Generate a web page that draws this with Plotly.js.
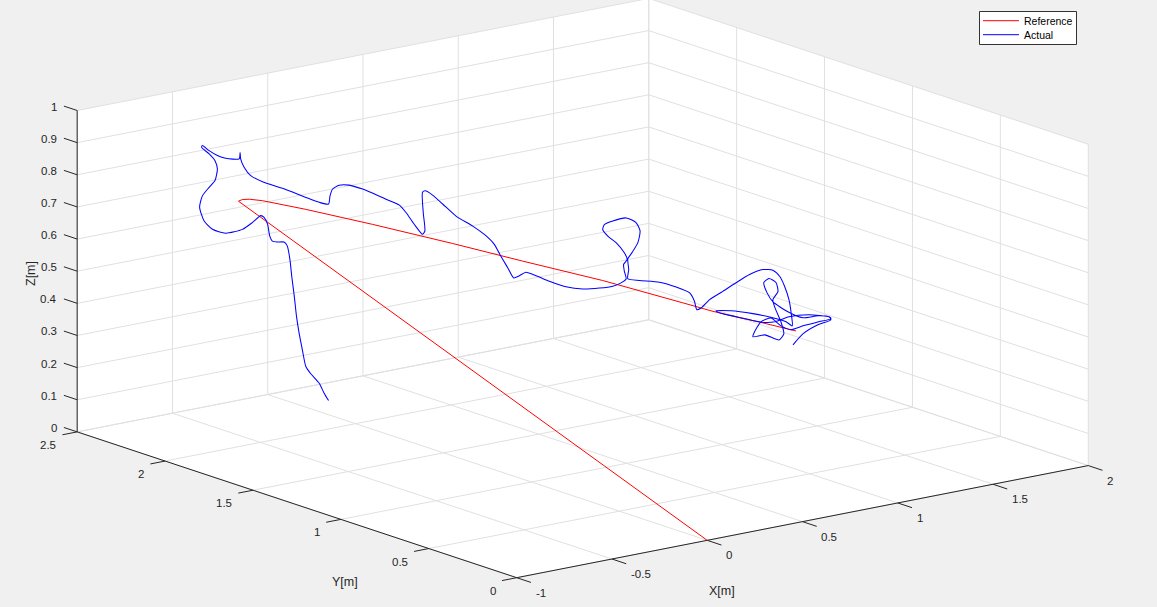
<!DOCTYPE html>
<html>
<head>
<meta charset="utf-8">
<script src="https://cdn.plot.ly/plotly-3.0.1.min.js"></script>
<style>html,body{margin:0;padding:0;background:#f0f0f0;}#chart{width:1157px;height:607px;}</style>
</head>
<body>
<div id="chart"></div>
<script>
// ---------------- DATA ----------------
const seriesNames = ['Reference', 'Actual'];

// Reference trajectory (m)
const refX = [0, -0.411, -0.400, -0.381, -0.346, -0.319, -0.229, -0.046, 0.172, 0.362, 0.580, 0.798, 0.880, 1.016, 1.106];
const refY = [0, 2.221, 2.210, 2.191, 2.155, 2.128, 2.037, 1.854, 1.634, 1.442, 1.223, 1.004, 0.921, 0.784, 0.694];
const refZ = [0, 0.700, 0.706, 0.708, 0.706, 0.702, 0.687, 0.652, 0.607, 0.565, 0.519, 0.464, 0.443, 0.416, 0.397];

// Actual trajectory (m)
const actX = [-0.166,-0.178,-0.191,-0.214,-0.228,-0.237,-0.246,-0.253,-0.259,-0.266,-0.271,-0.278,-0.287,-0.305,-0.319,-0.326,-0.332,-0.341,-0.350,-0.373,
-0.400,-0.446,-0.482,-0.505,-0.517,-0.509,-0.491,-0.475,-0.468,-0.475,-0.491,-0.511,-0.509,-0.491,-0.468,-0.446,-0.409,-0.407,-0.405,-0.396,
-0.378,-0.346,-0.291,-0.228,-0.191,-0.166,-0.162,-0.155,-0.137,-0.110,-0.073,-0.055,-0.010,0.027,0.045,0.067,0.090,0.096,0.092,0.090,
0.097,0.117,0.145,0.181,0.226,0.258,0.285,0.303,0.322,0.338,0.353,0.371,0.399,0.435,0.480,0.526,0.571,0.608,0.630,0.644,
0.639,0.637,0.647,0.639,0.617,0.594,0.580,0.585,0.608,0.644,0.671,0.682,0.676,0.660,0.648,0.651,0.648,0.680,0.735,0.780,
0.817,0.830,0.836,0.848,0.871,0.907,0.943,0.980,1.016,1.043,1.062,1.075,1.087,1.093,1.096,1.079,1.043,0.989,0.929,0.888,
0.907,0.962,1.011,1.049,1.087,1.141,1.196,1.201,1.166,1.125,1.092,1.065,1.038,1.011,0.992,0.989,1.022,1.060,1.073,1.065,
1.049,1.043,1.057,1.052,1.033,1.019,1.027,1.043,1.084,1.125,1.166,1.196,1.201,1.166,1.125,1.098];
const actY = [1.974,1.986,2.000,2.023,2.036,2.046,2.055,2.062,2.068,2.075,2.080,2.087,2.096,2.114,2.128,2.135,2.141,2.151,2.160,2.183,
2.210,2.256,2.292,2.315,2.327,2.320,2.301,2.285,2.279,2.285,2.301,2.322,2.320,2.301,2.279,2.256,2.219,2.216,2.215,2.205,
2.187,2.155,2.100,2.036,2.000,1.974,1.970,1.963,1.945,1.918,1.881,1.863,1.817,1.780,1.762,1.739,1.717,1.710,1.715,1.717,
1.709,1.689,1.662,1.625,1.579,1.547,1.520,1.502,1.483,1.467,1.451,1.433,1.406,1.369,1.324,1.278,1.232,1.196,1.173,1.159,
1.164,1.166,1.156,1.164,1.187,1.209,1.223,1.218,1.196,1.159,1.132,1.121,1.127,1.143,1.154,1.152,1.154,1.122,1.068,1.022,
0.985,0.972,0.965,0.954,0.930,0.894,0.858,0.821,0.784,0.757,0.739,0.725,0.713,0.707,0.704,0.721,0.757,0.812,0.872,0.913,
0.894,0.839,0.790,0.751,0.713,0.658,0.603,0.598,0.634,0.675,0.708,0.735,0.762,0.790,0.809,0.812,0.779,0.740,0.727,0.735,
0.751,0.757,0.743,0.749,0.768,0.782,0.773,0.757,0.716,0.675,0.634,0.603,0.598,0.634,0.675,0.702];
const actZ = [0.096,0.118,0.148,0.176,0.198,0.249,0.301,0.352,0.414,0.476,0.528,0.569,0.581,0.580,0.582,0.597,0.634,0.654,0.659,0.636,
0.613,0.598,0.608,0.633,0.674,0.710,0.738,0.760,0.796,0.822,0.842,0.861,0.867,0.852,0.838,0.831,0.832,0.852,0.832,0.807,
0.782,0.765,0.748,0.724,0.711,0.707,0.733,0.755,0.768,0.770,0.760,0.753,0.733,0.717,0.695,0.660,0.630,0.641,0.698,0.761,
0.766,0.754,0.728,0.693,0.665,0.641,0.612,0.576,0.541,0.511,0.519,0.531,0.522,0.507,0.493,0.489,0.495,0.503,0.515,0.528,
0.552,0.573,0.589,0.609,0.639,0.658,0.678,0.694,0.706,0.718,0.705,0.680,0.643,0.611,0.591,0.558,0.529,0.526,0.524,0.512,
0.496,0.471,0.445,0.451,0.479,0.507,0.536,0.564,0.582,0.582,0.564,0.534,0.493,0.452,0.412,0.424,0.434,0.443,0.448,0.445,
0.437,0.427,0.418,0.422,0.440,0.450,0.447,0.441,0.429,0.414,0.400,0.410,0.433,0.419,0.383,0.371,0.379,0.366,0.386,0.423,
0.465,0.490,0.516,0.544,0.555,0.542,0.511,0.484,0.455,0.439,0.448,0.447,0.438,0.420,0.389,0.353];

// Axis ranges and ticks
const xRange = [-1, 2];
const yRange = [0, 2.5];
const zRange = [0, 1];
const xTicks = [-1, -0.5, 0, 0.5, 1, 1.5, 2];
const yTicks = [0, 0.5, 1, 1.5, 2, 2.5];
const zTicks = [0, 0.1, 0.2, 0.3, 0.4, 0.5, 0.6, 0.7, 0.8, 0.9, 1];
const xTitle = 'X[m]', yTitle = 'Y[m]', zTitle = 'Z[m]';

// ---------------- VIEW (orthographic 3-D projection) ----------------
const W = 1157, H = 607;
const view = {az: 37.56, el: 14.78, scale: 721, box: [1, 1, 0.461], corner: [516.7, 577.7]};
const DEG = Math.PI / 180;
const ca = Math.cos(view.az * DEG), sa = Math.sin(view.az * DEG);
const ce = Math.cos(view.el * DEG), se = Math.sin(view.el * DEG);

function proj(X, Y, Z) {
  const nx = (X - xRange[0]) / (xRange[1] - xRange[0]) * view.box[0];
  const ny = (Y - yRange[0]) / (yRange[1] - yRange[0]) * view.box[1];
  const nz = (Z - zRange[0]) / (zRange[1] - zRange[0]) * view.box[2];
  const u = view.corner[0] + view.scale * (nx * ca - ny * sa);
  const v = view.corner[1] - view.scale * (se * (nx * sa + ny * ca) + ce * nz);
  return [u, v];
}
function projArrays(xs, ys, zs) {
  const u = [], v = [];
  for (let i = 0; i < xs.length; i++) { const p = proj(xs[i], ys[i], zs[i]); u.push(p[0]); v.push(p[1]); }
  return {u, v};
}

// ---------------- STYLE ----------------
const FONT = 'Liberation Sans, Arial, Helvetica, sans-serif';
const TXT = '#262626';
const GRID = '#e0e0e0';
const colors = ['#ff0000', '#0000ff'];
const lineWidths = [1, 1.05];

// ---------------- BUILD ----------------
const [x0, x1] = xRange, [y0, y1] = yRange, [z0, z1] = zRange;

// walls (floor, back wall y=max, back wall x=max)
function polyPath(pts) {
  return 'M ' + pts.map(p => { const q = proj(p[0], p[1], p[2]); return q[0].toFixed(2) + ',' + q[1].toFixed(2); }).join(' L ') + ' Z';
}
const wallPolys = [
  [[x0, y0, z0], [x1, y0, z0], [x1, y1, z0], [x0, y1, z0]],
  [[x0, y1, z0], [x1, y1, z0], [x1, y1, z1], [x0, y1, z1]],
  [[x1, y0, z0], [x1, y1, z0], [x1, y1, z1], [x1, y0, z1]]
];
const shapes = wallPolys.map(p => ({type: 'path', path: polyPath(p), fillcolor: '#ffffff', line: {width: 0}, layer: 'below', xref: 'x', yref: 'y'}));

// grid lines
const gu = [], gv = [];
function seg(a, b) { const p = proj(a[0], a[1], a[2]), q = proj(b[0], b[1], b[2]); gu.push(p[0], q[0], null); gv.push(p[1], q[1], null); }
xTicks.forEach(t => { seg([t, y0, z0], [t, y1, z0]); seg([t, y1, z0], [t, y1, z1]); });
yTicks.forEach(t => { seg([x0, t, z0], [x1, t, z0]); seg([x1, t, z0], [x1, t, z1]); });
zTicks.forEach(t => { seg([x0, y1, t], [x1, y1, t]); seg([x1, y0, t], [x1, y1, t]); });

// axis lines + tick marks
const au = [], av = [];
function aseg(p, q) { au.push(p[0], q[0], null); av.push(p[1], q[1], null); }
aseg(proj(x0, y0, z0), proj(x1, y0, z0));
aseg(proj(x0, y0, z0), proj(x0, y1, z0));
aseg(proj(x0, y1, z0), proj(x0, y1, z1));
const TICKLEN = 15;
function dirPx(dx, dy, dz) {
  const a = proj(0, 0, 0), b = proj(dx, dy, dz);
  const ux = b[0] - a[0], uy = b[1] - a[1], n = Math.hypot(ux, uy);
  return [ux / n, uy / n];
}
const dX = dirPx(0, -1, 0), dY = dirPx(-1, 0, 0), dZ = dirPx(0, 1, 0);
const annotations = [];
function label(p, text, xanchor, dx, dy) {
  annotations.push({x: p[0] + dx, y: p[1] + dy, xref: 'x', yref: 'y', text: text, showarrow: false,
    xanchor: xanchor, yanchor: 'middle', font: {family: FONT, size: 11.5, color: TXT}});
}
xTicks.forEach(t => { const p = proj(t, y0, z0); aseg(p, [p[0] + dX[0] * TICKLEN, p[1] + dX[1] * TICKLEN]); label(p, String(t), 'left', 17, 15); });
yTicks.forEach(t => { const p = proj(x0, t, z0); aseg(p, [p[0] + dY[0] * TICKLEN, p[1] + dY[1] * TICKLEN]); label(p, String(t), 'right', -19, 13); });
zTicks.forEach(t => { const p = proj(x0, y1, t); aseg(p, [p[0] + dZ[0] * 14, p[1] + dZ[1] * 14]); label(p, String(t), 'right', -18, -4); });

// axis titles
annotations.push({x: 722, y: 591, xref: 'x', yref: 'y', text: xTitle, showarrow: false, xanchor: 'center', yanchor: 'middle', font: {family: FONT, size: 12.5, color: TXT}});
annotations.push({x: 345, y: 582, xref: 'x', yref: 'y', text: yTitle, showarrow: false, xanchor: 'center', yanchor: 'middle', font: {family: FONT, size: 12.5, color: TXT}});
annotations.push({x: 31, y: 274, xref: 'x', yref: 'y', text: zTitle, showarrow: false, textangle: -90, xanchor: 'center', yanchor: 'middle', font: {family: FONT, size: 12.5, color: TXT}});

// legend box
const legendBox = {x0: 979.5, y0: 11.5, x1: 1076.5, y1: 44.5};
shapes.push({type: 'rect', xref: 'x', yref: 'y', x0: legendBox.x0, y0: legendBox.y0, x1: legendBox.x1, y1: legendBox.y1,
  fillcolor: '#ffffff', line: {color: '#333333', width: 1}, layer: 'above'});
seriesNames.forEach((name, i) => {
  const yy = 20.7 + i * 14;
  shapes.push({type: 'line', xref: 'x', yref: 'y', x0: 983, x1: 1019, y0: yy, y1: yy, line: {color: colors[i], width: 1}, layer: 'above'});
  annotations.push({x: 1022, y: yy, xref: 'x', yref: 'y', text: name, showarrow: false, xanchor: 'left', yanchor: 'middle',
    font: {family: FONT, size: 10.5, color: '#000000'}});
});

const pr = projArrays(refX, refY, refZ);
const pa = projArrays(actX, actY, actZ);

const traces = [
  {type: 'scatter', mode: 'lines', x: gu, y: gv, line: {color: GRID, width: 1}, hoverinfo: 'skip', showlegend: false},
  {type: 'scatter', mode: 'lines', x: au, y: av, line: {color: TXT, width: 1}, hoverinfo: 'skip', showlegend: false},
  {type: 'scatter', mode: 'lines', name: seriesNames[0], x: pr.u, y: pr.v, line: {color: colors[0], width: lineWidths[0]}, hoverinfo: 'skip', showlegend: false},
  {type: 'scatter', mode: 'lines', name: seriesNames[1], x: pa.u, y: pa.v, line: {color: colors[1], width: lineWidths[1], shape: 'spline', smoothing: 0.6}, hoverinfo: 'skip', showlegend: false}
];

const layout = {
  width: W, height: H,
  paper_bgcolor: '#f0f0f0', plot_bgcolor: '#f0f0f0',
  margin: {l: 0, r: 0, t: 0, b: 0, pad: 0},
  showlegend: false, hovermode: false,
  xaxis: {range: [0, W], visible: false, fixedrange: true},
  yaxis: {range: [H, 0], visible: false, fixedrange: true},
  shapes: shapes,
  annotations: annotations
};

Plotly.newPlot('chart', traces, layout, {displayModeBar: false, staticPlot: true});
</script>
</body>
</html>
